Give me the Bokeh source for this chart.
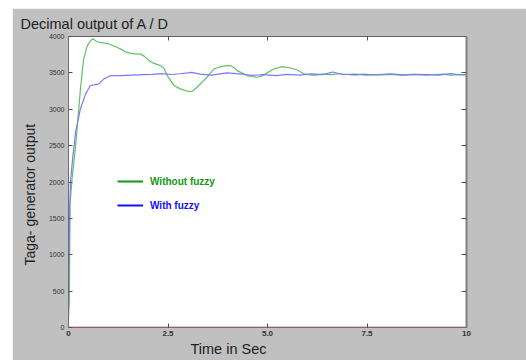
from bokeh.plotting import figure
from bokeh.models import Range1d, FixedTicker, LinearAxis, Legend, LegendItem, Title
from bokeh.embed import file_html
from bokeh.resources import INLINE
import math

# ---- data ----
title_text = "Decimal output of  A / D"
x_label = "Time in Sec"
y_label = "Taga- generator output"
series_names = ["Without fuzzy", "With fuzzy"]

x_ticks = [0, 2.5, 5, 7.5, 10]
x_tick_labels = ["0", "2.5", "5.0", "7.5", "10"]
y_ticks = [0, 500, 1000, 1500, 2000, 2500, 3000, 3500, 4000]

t_without = [0.0, 0.02, 0.04, 0.09, 0.18, 0.23, 0.30, 0.38, 0.47, 0.55, 0.61, 0.70, 0.80,
             1.00, 1.18, 1.30, 1.47, 1.60, 1.81, 1.90, 2.02, 2.15, 2.31, 2.40, 2.48, 2.65,
             2.81, 3.02, 3.12, 3.23, 3.35, 3.48, 3.65, 3.80, 3.90, 4.07, 4.15, 4.24, 4.35,
             4.49, 4.60, 4.74, 4.85, 4.99, 5.16, 5.37, 5.55, 5.75, 5.90, 6.00, 6.20, 6.40,
             6.60, 6.80, 7.00, 7.20, 7.40, 7.60, 7.80, 8.00, 8.20, 8.40, 8.60, 8.80, 9.00,
             9.20, 9.40, 9.60, 9.80, 10.0]
v_without = [140, 350, 1700, 2050, 2507, 2826, 3280, 3690, 3870, 3940, 3970, 3935, 3918,
             3900, 3863, 3830, 3781, 3765, 3758, 3730, 3668, 3630, 3600, 3560, 3463, 3327,
             3280, 3244, 3250, 3303, 3370, 3440, 3553, 3580, 3595, 3600, 3575, 3531, 3500,
             3463, 3450, 3440, 3455, 3500, 3553, 3586, 3570, 3540, 3490, 3476, 3470, 3482,
             3476, 3488, 3478, 3470, 3484, 3476, 3468, 3480, 3474, 3466, 3480, 3474, 3468,
             3478, 3482, 3470, 3476, 3472]

t_with = [0.0, 0.03, 0.05, 0.10, 0.18, 0.30, 0.43, 0.55, 0.64, 0.76, 0.89, 1.06, 1.30,
          1.60, 1.89, 2.10, 2.31, 2.60, 2.80, 3.10, 3.30, 3.60, 3.98, 4.30, 4.60, 4.90,
          5.20, 5.50, 5.80, 6.10, 6.40, 6.63, 6.90, 7.20, 7.50, 7.80, 8.10, 8.40, 8.70,
          9.00, 9.30, 9.60, 9.80, 10.0]
v_with = [370, 1650, 2000, 2300, 2689, 3007, 3212, 3326, 3335, 3349, 3417, 3463, 3462,
          3470, 3476, 3480, 3490, 3478, 3488, 3508, 3482, 3470, 3500, 3485, 3465, 3475,
          3462, 3480, 3470, 3485, 3475, 3512, 3478, 3482, 3470, 3478, 3485, 3472, 3480,
          3476, 3470, 3490, 3478, 3475]

t_ref = [0, 10]
v_ref = [0, 0]

# ---- figure ----
BG = "#c0c0c0"
p = figure(width=514, height=352, output_backend="svg", toolbar_location=None,
           x_range=Range1d(0, 10), y_range=Range1d(0, 4000),
           min_border_left=56, min_border_right=60, min_border_top=25, min_border_bottom=33,
           background_fill_color="white", border_fill_color=BG,
           outline_line_color="#707070")
p.margin = (8, 0, 0, 12)
p.grid.visible = False

p.title.text = title_text
p.title.align = "left"
p.title.offset = -48
p.title.text_font = "Liberation Sans"
p.title.text_font_size = "14.5px"
p.title.text_font_style = "normal"
p.title.text_color = "#222222"
p.title.standoff = 10

for ax in (p.xaxis[0], p.yaxis[0]):
    ax.major_tick_in = 4
    ax.major_tick_out = 0
    ax.minor_tick_in = 0
    ax.minor_tick_out = 0
    ax.major_tick_line_color = "#505050"
    ax.axis_line_color = "#707070"
    ax.major_label_text_color = "#333333"
    ax.major_label_text_font = "Liberation Sans"

p.xaxis.ticker = FixedTicker(ticks=x_ticks)
p.xaxis.major_label_overrides = {k: v for k, v in zip(x_ticks, x_tick_labels)}
p.xaxis.major_label_text_font_size = "8px"
p.xaxis.major_label_text_font_style = "bold"
p.xaxis.major_label_standoff = 3
p.yaxis.ticker = FixedTicker(ticks=y_ticks)
p.yaxis.major_label_text_font_size = "7px"
p.yaxis.major_label_standoff = 4

top_axis = LinearAxis(ticker=FixedTicker(ticks=x_ticks[1:-1]),
                      major_label_overrides={k: "" for k in x_ticks[1:-1]},
                      major_label_standoff=0, major_label_text_font_size="1px",
                      major_tick_in=4, major_tick_out=0, minor_tick_in=0, minor_tick_out=0,
                      major_tick_line_color="#505050", axis_line_color="#606060")
right_axis = LinearAxis(ticker=FixedTicker(ticks=y_ticks[1:-1]),
                        major_label_overrides={k: "" for k in y_ticks[1:-1]},
                        major_label_standoff=0, major_label_text_font_size="1px",
                        major_tick_in=5, major_tick_out=0, minor_tick_in=0, minor_tick_out=0,
                        major_tick_line_color="#505050", axis_line_color="#808080",
                        axis_line_width=2)
p.add_layout(top_axis, "above")
p.add_layout(right_axis, "right")

# axis titles (as side titles for horizontal control)
xt = Title(text=x_label, align="left", offset=122, text_font="Liberation Sans",
           text_font_size="14.5px", text_font_style="normal", text_color="#222222", standoff=1)
p.add_layout(xt, "below")
yt = Title(text=y_label, align="left", offset=62, text_font="Liberation Sans",
           text_font_size="14px", text_font_style="normal", text_color="#222222", standoff=15)
p.add_layout(yt, "left")

p.line(t_without, v_without, line_color="#62c062", line_width=1.2)
p.line(t_with, v_with, line_color="#7a7aff", line_width=1.2)
p.line(t_ref, v_ref, line_color="#f08080", line_width=2)

# legends (dark colours, separate text colours)
g1 = p.line([math.nan], [math.nan], line_color="#119911", line_width=2)
g2 = p.line([math.nan], [math.nan], line_color="#1111ff", line_width=2)
for r, name, col, y in ((g1, series_names[0], "#119911", 139), (g2, series_names[1], "#1111ff", 115)):
    lg = Legend(items=[LegendItem(label=name, renderers=[r])], location=(49, y),
                padding=0, margin=0, border_line_color=None, background_fill_alpha=0,
                glyph_width=26, glyph_height=14, label_height=14, label_standoff=7,
                label_text_font="Liberation Sans", label_text_font_size="10px",
                label_text_font_style="bold", label_text_color=col)
    p.add_layout(lg, "center")

open("out.html", "w").write(file_html(p, INLINE))
